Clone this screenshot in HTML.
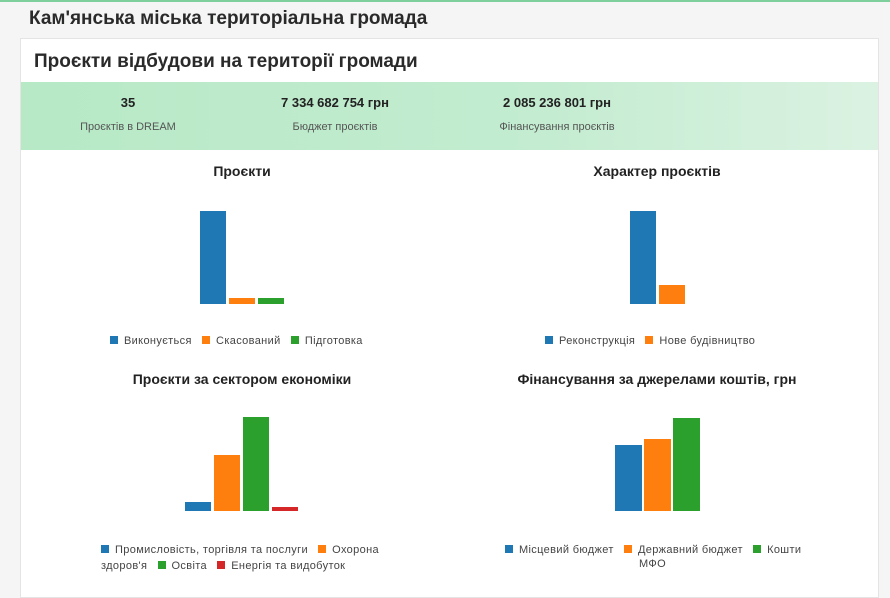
<!DOCTYPE html>
<html><head><meta charset="utf-8"><style>
*{margin:0;padding:0;box-sizing:border-box}
body{width:890px;height:581px;background:#f4f5f4;font-family:"Liberation Sans",sans-serif;position:relative;overflow:hidden;color:#222}
.a{position:absolute}
.t{white-space:nowrap}
.ct{font-weight:bold;font-size:14px;text-align:center;color:#222}
.lg{font-size:11px;letter-spacing:0.35px;color:#444;white-space:nowrap}
.sq{display:inline-block;width:8px;height:8px;margin:0 6px 0 0;vertical-align:0px}
.b{background:#1f77b4}.o{background:#ff7f0e}.g{background:#2ca02c}.r{background:#d62728}
</style></head><body>
<div class="a" style="left:0;top:0;width:890px;height:2px;background:#7fcf9c"></div>
<div class="a t" style="left:29px;top:8px;font-size:19px;font-weight:bold;color:#2a2a2a">Кам'янська міська територіальна громада</div>
<div class="a" style="left:20px;top:38px;width:859px;height:560px;background:#fff;border:1px solid #e4e4e4"></div>
<div class="a t" style="left:34px;top:51px;font-size:19px;font-weight:bold;color:#2a2a2a">Проєкти відбудови на території громади</div>
<div class="a" style="left:21px;top:82px;width:857px;height:68px;background:linear-gradient(90deg,#b7e9c6,#c3ecd0 60%,#dbf2e2)"></div>
<div class="a ct t" style="left:78px;top:95px;width:100px;font-size:13px">35</div>
<div class="a t" style="left:73px;top:121px;width:110px;text-align:center;font-size:11px;color:#555">Проєктів в DREAM</div>
<div class="a ct t" style="left:265px;top:95px;width:140px;font-size:13px">7 334 682 754 грн</div>
<div class="a t" style="left:265px;top:121px;width:140px;text-align:center;font-size:11px;color:#555">Бюджет проєктів</div>
<div class="a ct t" style="left:482px;top:95px;width:150px;font-size:13px">2 085 236 801 грн</div>
<div class="a t" style="left:482px;top:121px;width:150px;text-align:center;font-size:11px;color:#555">Фінансування проєктів</div>

<div class="a ct t" style="left:142px;top:163px;width:200px">Проєкти</div>
<div class="a b" style="left:200px;top:211px;width:26px;height:93px"></div>
<div class="a o" style="left:229px;top:298px;width:26px;height:6px"></div>
<div class="a g" style="left:258px;top:298px;width:26px;height:6px"></div>
<div class="a lg" style="left:110px;top:335px"><span class="sq b"></span>Виконується &nbsp; <span class="sq o"></span>Скасований &nbsp; <span class="sq g"></span>Підготовка</div>

<div class="a ct t" style="left:557px;top:163px;width:200px">Характер проєктів</div>
<div class="a b" style="left:630px;top:211px;width:26px;height:93px"></div>
<div class="a o" style="left:659px;top:285px;width:26px;height:19px"></div>
<div class="a lg" style="left:545px;top:335px"><span class="sq b"></span>Реконструкція &nbsp; <span class="sq o"></span>Нове будівництво</div>

<div class="a ct t" style="left:102px;top:371px;width:280px">Проєкти за сектором економіки</div>
<div class="a b" style="left:185px;top:502px;width:26px;height:9px"></div>
<div class="a o" style="left:214px;top:455px;width:26px;height:56px"></div>
<div class="a g" style="left:243px;top:417px;width:26px;height:94px"></div>
<div class="a r" style="left:272px;top:507px;width:26px;height:4px"></div>
<div class="a lg" style="left:101px;top:542px;line-height:16px"><span class="sq b"></span>Промисловість, торгівля та послуги &nbsp; <span class="sq o"></span>Охорона<br>здоров'я &nbsp; <span class="sq g"></span>Освіта &nbsp; <span class="sq r"></span>Енергія та видобуток</div>

<div class="a ct t" style="left:482px;top:371px;width:350px">Фінансування за джерелами коштів, грн</div>
<div class="a b" style="left:615px;top:445px;width:27px;height:66px"></div>
<div class="a o" style="left:644px;top:439px;width:27px;height:72px"></div>
<div class="a g" style="left:673px;top:418px;width:27px;height:93px"></div>
<div class="a lg" style="left:505px;top:542px;line-height:16px"><span class="sq b"></span>Місцевий бюджет &nbsp; <span class="sq o"></span>Державний бюджет &nbsp; <span class="sq g"></span>Кошти</div>
<div class="a lg" style="left:639px;top:558px">МФО</div>
</body></html>
